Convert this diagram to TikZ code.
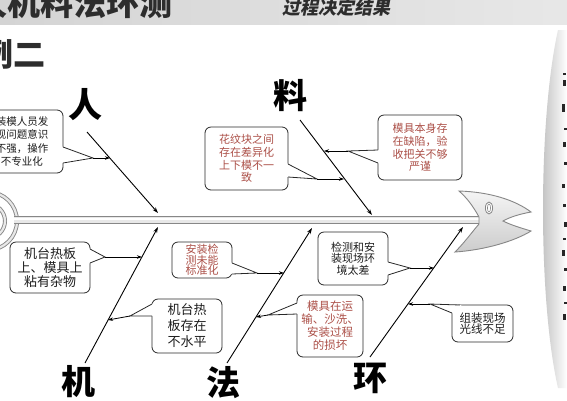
\documentclass[tikz,border=0pt]{standalone}
\usepackage{fontspec}
\setmainfont{Noto Sans CJK SC}
\newfontfamily\slantcjk{Noto Sans CJK SC}[FakeSlant=0.2]
\usepackage{xcolor}
\usepackage{tikz}
\usetikzlibrary{arrows.meta,calc}
\definecolor{headgray}{RGB}{212,212,212}
\definecolor{titletext}{RGB}{45,45,45}
\definecolor{causered}{RGB}{172,80,72}
\definecolor{causeblack}{RGB}{30,30,30}
\definecolor{boxedge}{RGB}{40,40,40}
\definecolor{tubeedge}{RGB}{135,135,135}
\definecolor{tubefill}{RGB}{232,232,232}
\newcommand{\causebox}[8]{%
  \node[causebox,text=#6,minimum width=#4,minimum height=#5,font=#7] (#1) at (#2,#3) {#8};%
}
\newcommand{\calloutwedge}[3]{%
  \fill[white] ($(#2)!-1.5pt!(#1)$) -- (#1) -- ($(#3)!-1.5pt!(#1)$) -- cycle;%
  \draw[wedgeline] (#2) -- (#1) -- (#3);%
}

\begin{document}
\begin{tikzpicture}[x=1pt,y=-1pt,
  causebox/.style={draw=boxedge,line width=0.8pt,rounded corners=6pt,fill=white,align=center,inner sep=1pt},
  bone/.style={line width=0.9pt,-{Stealth[length=6pt,width=4pt]}},
  hitarrow/.style={line width=0.8pt,-{Stealth[length=5pt,width=3.5pt]}},
  wedgeline/.style={line width=0.8pt,boxedge},
  bonelabel/.style={font=\fontsize{34}{34}\selectfont\bfseries,inner sep=0pt},
  tube/.style={line width=#1,tubeedge}]
  \useasboundingbox (0,0) rectangle (567,400);
  \clip (0,0) rectangle (567,400);
  \fill[white] (0,0) rectangle (567,400);
  % header band and titles
  \shade[left color=headgray,right color=headgray!55] (0,0) rectangle (567,24);
  \node[anchor=base west,inner sep=0pt,text=titletext,font=\fontsize{33}{33}\selectfont\bfseries] (maintitle) at (-26,15) {人机料法环测};
  \node[anchor=base west,inner sep=0pt,text=titletext,font=\fontsize{18}{18}\selectfont\slantcjk\bfseries] (subtitle) at (282,14) {过程决定结果};
  \node[anchor=base west,inner sep=0pt,text=titletext,font=\fontsize{32}{32}\selectfont\bfseries] (casetitle) at (-19,66) {例二};
  % right panel
  \shade[left color=gray!55,right color=white] (567,30) -- (558,30) .. controls (538,120) and (538,300) .. (558,388) -- (567,388) -- cycle;
  \foreach \my/\mx/\mh in {73/563/2,80/563/6,104/562/8,128/564/2,142/563/5,162/564/3,184/562/4,204/563/3,222/564/5,238/563/2,250/562/6,268/564/3,286/563/5,302/564/2,314/563/6}
    \fill[black!85] (\mx,\my) rectangle ++(3,\mh);
  % tail rings and spine
  \coordinate (tail) at (-12,221);
  \coordinate (spineL) at (14,220);
  \coordinate (spineR) at (479,220);
  \foreach \r in {17,29}{
    \draw[tube=4pt] (tail) circle (\r);
    \draw[line width=2.2pt,tubefill] (tail) circle (\r);
  }
  \draw[tube=8pt] (spineL) -- (spineR);
  \draw[line width=6pt,tubefill] (spineL) -- (spineR);
  \draw[line width=2pt,white] ($(spineL)+(0,-1)$) -- ($(spineR)+(0,-1)$);
  % fish head
  \shade[top color=gray!8,bottom color=gray!40,draw=tubeedge,line width=0.9pt]
    (479,217) .. controls (473,206) and (467,198) .. (459,191)
    .. controls (490,192) and (515,200) .. (531,212)
    .. controls (520,214) and (510,217) .. (503,221)
    .. controls (511,225) and (521,228) .. (531,231)
    .. controls (515,241) and (485,250) .. (455,252)
    .. controls (465,242) and (472,232) .. (479,224) -- cycle;
  \coordinate (eye) at (489,208);
  \draw[tubeedge,fill=white,line width=0.8pt] (eye) ellipse (3.6 and 6);
  \draw[tubeedge,line width=0.6pt] (eye) ellipse (1.6 and 4);
  % bones
  \coordinate (renS) at (87,132);   \coordinate (renE) at (158,213);
  \coordinate (jiS) at (85,363);    \coordinate (jiE) at (158,227);
  \coordinate (liaoS) at (300,120); \coordinate (liaoE) at (372,215);
  \coordinate (faS) at (227,363);   \coordinate (faE) at (312,228);
  \coordinate (huanS) at (370,357); \coordinate (huanE) at (463,227);
  \foreach \b in {ren,ji,liao,fa,huan}
    \draw[bone] (\b S) -- (\b E);
  \node[bonelabel] (renlabel) at (85,105) {人};
  \node[bonelabel] (jilabel) at (78,382) {机};
  \node[bonelabel] (liaolabel) at (290,96) {料};
  \node[bonelabel] (falabel) at (223,383) {法};
  \node[bonelabel] (huanlabel) at (370,378) {环};
  % cause boxes
  \causebox{renbox}{22}{141.5}{82}{63}{causeblack}{\fontsize{10.5}{13.5}\selectfont}{装模人员发\\现问题意识\\不强，操作\\不专业化}
  \causebox{liaoboxA}{246.5}{158.5}{83}{63}{causered}{\fontsize{11}{12.7}\selectfont}{花纹块之间\\存在差异化\\上下模不一\\致}
  \causebox{liaoboxB}{420}{147.5}{84}{65}{causered}{\fontsize{11}{12.7}\selectfont}{模具本身存\\在缺陷，验\\收把关不够\\严谨}
  \causebox{jiboxA}{50}{267.5}{80}{51}{causeblack}{\fontsize{13}{14}\selectfont}{机台热板\\上、模具上\\粘有杂物}
  \causebox{jiboxB}{187}{326}{70}{54}{causeblack}{\fontsize{13}{16}\selectfont}{机台热\\板存在\\不水平}
  \causebox{faboxA}{202}{260}{60}{36}{causered}{\fontsize{11}{10.7}\selectfont}{安装检\\测未能\\标准化}
  \causebox{faboxB}{330}{326}{66}{62}{causered}{\fontsize{11.5}{13}\selectfont}{模具在运\\输、沙洗、\\安装过程\\的损坏}
  \causebox{huanboxA}{353}{258.5}{70}{53}{causeblack}{\fontsize{11}{11.5}\selectfont}{检测和安\\装现场环\\境太差}
  \causebox{huanboxB}{482.5}{323.5}{61}{37}{causeblack}{\fontsize{11.5}{11.5}\selectfont}{组装现场\\光线不足}
  % callout tips and where they hit the bones
  \coordinate (renTip) at (93,158);     \coordinate (renHit) at (110,158);
  \coordinate (liaoATip) at (317,179);  \coordinate (liaoAHit) at (344,179);
  \coordinate (liaoBTip) at (348,151);  \coordinate (liaoBHit) at (324,151);
  \coordinate (jiATip) at (105,257);    \coordinate (jiAHit) at (142,257);
  \coordinate (jiBTip) at (130,316);    \coordinate (jiBHit) at (108,320);
  \coordinate (faATip) at (257,273);    \coordinate (faAHit) at (284,273);
  \coordinate (faBTip) at (268,315);    \coordinate (faBHit) at (256,317);
  \coordinate (huanATip) at (410,268);  \coordinate (huanAHit) at (434,268);
  \coordinate (huanBTip) at (430,304);  \coordinate (huanBHit) at (408,304);
  \calloutwedge{renTip}{63,147}{63,163}
  \calloutwedge{liaoATip}{288,164}{288,177}
  \calloutwedge{liaoBTip}{378,150}{378,163}
  \calloutwedge{jiATip}{90,249}{90,263}
  \calloutwedge{jiBTip}{152,304}{152,316}
  \calloutwedge{faATip}{232,263}{232,274}
  \calloutwedge{faBTip}{297,303}{297,314}
  \calloutwedge{huanATip}{388,262}{388,275}
  \calloutwedge{huanBTip}{452,313}{460,305}
  \foreach \c in {ren,liaoA,liaoB,jiA,jiB,faA,faB,huanA,huanB}
    \draw[hitarrow] (\c Tip) -- (\c Hit);
\end{tikzpicture}
\end{document}
